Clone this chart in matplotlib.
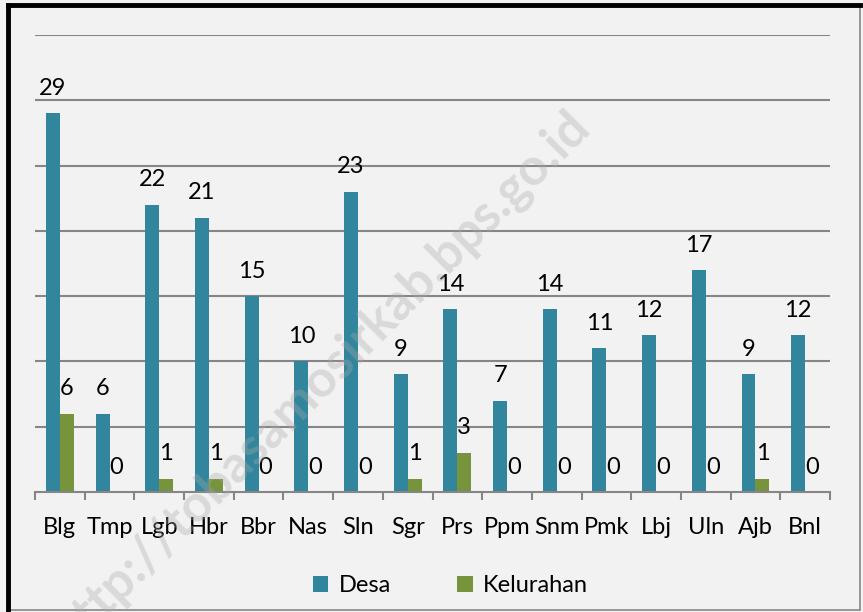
import matplotlib.pyplot as plt
import numpy as np
from matplotlib.patches import Rectangle

plt.rcParams['font.family'] = ['Lato', 'DejaVu Sans']

kecamatan = ["Blg", "Tmp", "Lgb", "Hbr", "Bbr", "Nas", "Sln", "Sgr",
             "Prs", "Ppm", "Snm", "Pmk", "Lbj", "Uln", "Ajb", "Bnl"]
desa = [29, 6, 22, 21, 15, 10, 23, 9, 14, 7, 14, 11, 12, 17, 9, 12]
kelurahan = [6, 0, 1, 1, 0, 0, 0, 1, 3, 0, 0, 0, 0, 0, 1, 0]

BLUE = "#31859C"
GREEN = "#77933C"
GRID = "#868686"
FS = 17

fig = plt.figure(figsize=(8.63, 6.12), dpi=100, facecolor="#F2F2F2")
ax = fig.add_axes([35/863, 1-492/612, (830-35)/863, (492-35)/612])
ax.set_facecolor("#F2F2F2")

x = np.arange(len(kecamatan))
w = 0.28
b1 = ax.bar(x - w/2, desa, w, color=BLUE, label="Desa", zorder=2)
b2 = ax.bar(x + w/2, kelurahan, w, color=GREEN, label="Kelurahan", zorder=2)

for bars, vals in [(b1, desa), (b2, kelurahan)]:
    for r, v in zip(bars, vals):
        ax.annotate(str(v), (r.get_x() + r.get_width()/2, v), xytext=(0, 18),
                    textcoords="offset points", ha="center", va="center", fontsize=FS)

ax.set_xlim(-0.5, len(kecamatan) - 0.5)
ax.set_ylim(0, 35)
ax.set_yticks(np.arange(5, 36, 5))
ax.yaxis.grid(True, color=GRID, linewidth=1.5, zorder=0)
ax.tick_params(axis="y", length=0, labelleft=False)
for s in ["top", "right", "left"]:
    ax.spines[s].set_visible(False)
ax.spines["bottom"].set_color(GRID)
ax.spines["bottom"].set_linewidth(1.5)

ax.set_xticks(x)
ax.set_xticklabels(kecamatan, fontsize=FS)
ax.tick_params(axis="x", which="major", length=0, pad=18)
ax.set_xticks(np.arange(-0.5, len(kecamatan)), minor=True)
ax.tick_params(axis="x", which="minor", length=6, width=1.5, color=GRID)

fig.legend(loc="center", bbox_to_anchor=(0.522, 1-586/612), ncol=2, frameon=False,
           fontsize=FS, handlelength=0.65, handleheight=0.65, handletextpad=0.45,
           columnspacing=2.8)

# watermark
fig.text(592/863, 1-128/612, "http://tobasamosirkab.bps.go.id", rotation=45,
         rotation_mode="anchor", fontsize=37, fontweight="bold", color="#AAAAAA",
         alpha=0.35, ha="right", va="baseline", zorder=10)

fig.patches.append(Rectangle((8/863, 2/612), 852/863, 605/612, transform=fig.transFigure,
                             fill=False, edgecolor=GRID, linewidth=1.2))
fig.add_artist(plt.Line2D([8/863, 8/863], [2/612, 1-5/612], color="black", linewidth=3.5,
                          transform=fig.transFigure))
fig.add_artist(plt.Line2D([8/863, 860/863], [1-5/612, 1-5/612], color="black", linewidth=3.5,
                          transform=fig.transFigure))

fig.savefig("out.png", dpi=100, facecolor=fig.get_facecolor())
